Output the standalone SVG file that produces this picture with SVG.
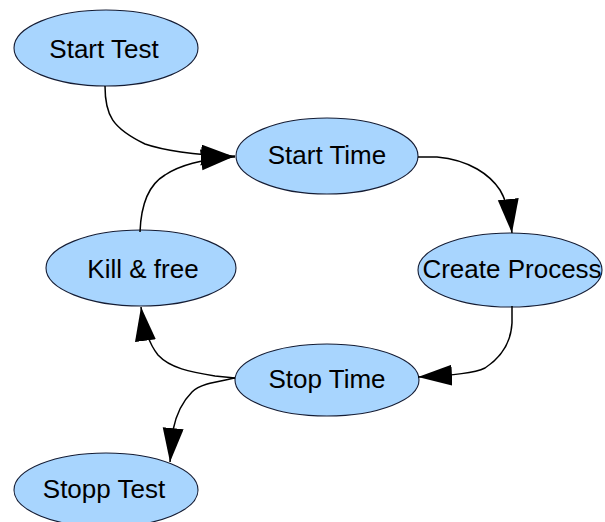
<svg xmlns="http://www.w3.org/2000/svg" width="605" height="522" viewBox="0 0 605 522">
  <style>
    .node ellipse { fill: #a8d5fe; stroke: #141c34; stroke-width: 1.1; }
    .node text { font-family: "Liberation Sans", Arial, sans-serif; font-size: 26px; fill: #000; text-anchor: middle; }
    .edge { fill: none; stroke: #000; stroke-width: 1.5; marker-end: url(#arrow); }
  </style>
  <defs>
    <marker id="arrow" markerUnits="userSpaceOnUse" markerWidth="36" markerHeight="22" refX="34" refY="10.5" orient="auto" viewBox="0 0 36 22">
      <path d="M0,0 L34,10.5 L0,21 Z" fill="#000"/>
    </marker>
  </defs>
  <rect width="605" height="522" fill="#fff"/>

  <g id="start-test" class="node">
    <ellipse cx="106" cy="48" rx="92" ry="38"/>
    <text x="104" y="58">Start Test</text>
  </g>
  <g id="start-time" class="node">
    <ellipse cx="327" cy="156" rx="91" ry="38"/>
    <text x="327" y="164">Start Time</text>
  </g>
  <g id="create-process" class="node">
    <ellipse cx="510" cy="270" rx="92" ry="37"/>
    <text x="512" y="278">Create Process</text>
  </g>
  <g id="kill-free" class="node">
    <ellipse cx="141" cy="268" rx="95" ry="38"/>
    <text x="143" y="278">Kill &amp; free</text>
  </g>
  <g id="stop-time" class="node">
    <ellipse cx="327" cy="380" rx="92" ry="36"/>
    <text x="327" y="388">Stop Time</text>
  </g>
  <g id="stopp-test" class="node">
    <ellipse cx="106" cy="490" rx="92" ry="37"/>
    <text x="104" y="498">Stopp Test</text>
  </g>

  <g id="connectors">
    <path class="edge" d="M105,86 C105,115 112,128 145,144 C165,151 200,155 235,157"/>
    <path class="edge" d="M140,232 C141,205 148,185 165,175 C180,165 200,160 235,156"/>
    <path class="edge" d="M418,157 L437,157 C470,160 490,175 500,190 C506,200 510,215 512,233"/>
    <path class="edge" d="M512,306 L512,323 C511,343 500,358 485,368 C475,373 455,375 418,377"/>
    <path class="edge" d="M235,378 L215,376 C190,372 170,368 158,355 C150,345 144,330 141,307"/>
    <path class="edge" d="M235,378 C215,382 200,384 192,392 C182,402 176,415 173,430 L170,462"/>
  </g>
</svg>
